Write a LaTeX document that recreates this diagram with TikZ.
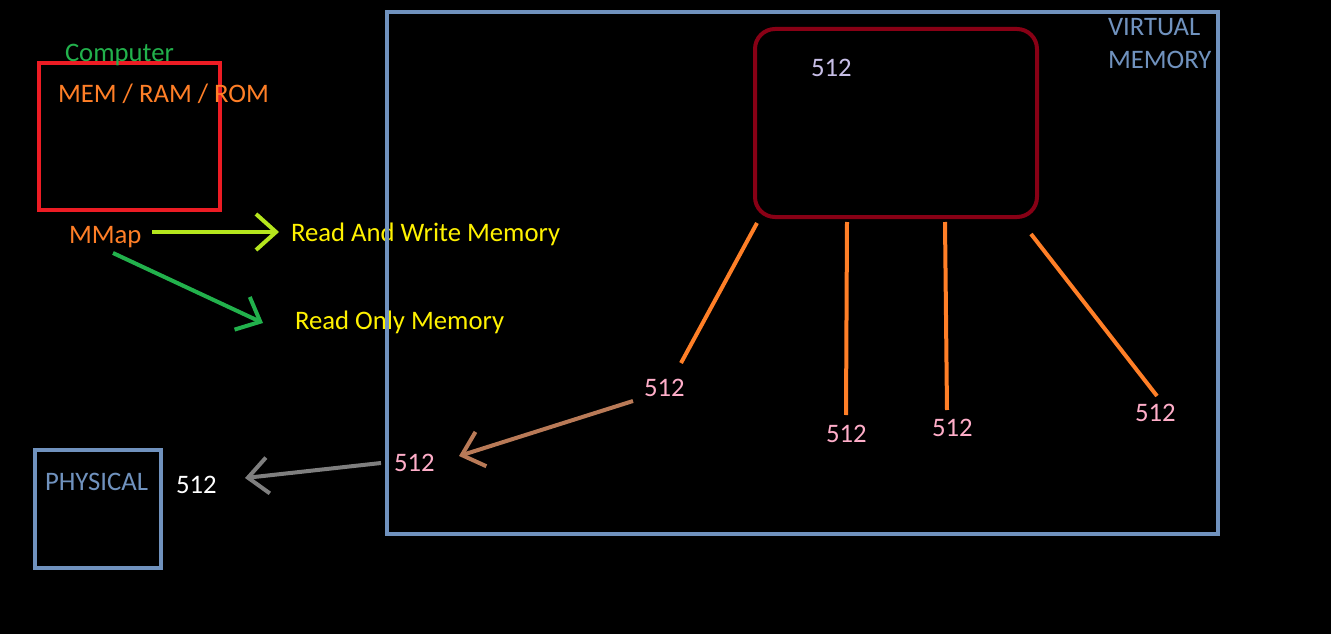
\documentclass[tikz,border=0pt]{standalone}
\usepackage{fontspec}
\setmainfont{Carlito}
\usetikzlibrary{arrows.meta}
\definecolor{cred}{HTML}{ED1C24}
\definecolor{cgreen}{HTML}{22B14C}
\definecolor{corange}{HTML}{FF7F27}
\definecolor{clime}{HTML}{B5E61D}
\definecolor{cyellow}{HTML}{FFF200}
\definecolor{cblue}{HTML}{7092BE}
\definecolor{cmaroon}{HTML}{880015}
\definecolor{clav}{HTML}{C8BFE7}
\definecolor{cpink}{HTML}{FFAEC9}
\definecolor{cbrown}{HTML}{B97A57}
\definecolor{cgray}{HTML}{7F7F7F}
\begin{document}
\begin{tikzpicture}[x=1pt,y=-1pt,line width=4pt,
	lbl/.style={anchor=west,inner sep=0pt,font=\fontsize{26.7}{33}\selectfont},
	barb/.style={-{Straight Barb[length=20pt,width=36pt]}}]
		\fill[black] (0,0) rectangle (1331,634);
		% left side: computer memory
		\draw[cred] (39,63) rectangle (220,210);
		\node[lbl,cgreen] (comp) at (63,55) {Computer};
		\node[lbl,corange] (mem) at (56,94) {MEM / RAM / ROM};
		\node[lbl,corange] (mmap) at (67,237) {MMap};
		\node[lbl,cyellow] (rw) at (289,234) {Read And Write Memory};
		\node[lbl,cyellow] (ro) at (293,322) {Read Only Memory};
		\coordinate (y0) at (152,232);
		\coordinate (y1) at (279,232);
		\coordinate (g0) at (113,253);
		\coordinate (g1) at (263,323);
		\draw[barb,clime] (y0) -- (y1);
		\draw[barb,cgreen] (g0) -- (g1);
		% virtual memory
		\draw[cblue] (387,12) rectangle (1218,534);
		\node[lbl,cblue,align=left] (vmem) at (1106,44) {VIRTUAL\\MEMORY};
		\draw[cmaroon,rounded corners=20pt] (755,29) rectangle (1037,217);
		\node[lbl,clav] (top) at (809,68) {512};
		\node[lbl,cpink] (pa) at (642,388) {512};
		\node[lbl,cpink] (pb) at (824,434) {512};
		\node[lbl,cpink] (pc) at (930,428) {512};
		\node[lbl,cpink] (pd) at (1133,413) {512};
		\node[lbl,cpink] (pe) at (392,463) {512};
		\coordinate (la) at (757,223); \coordinate (la') at (681,363);
		\coordinate (lb) at (847,222); \coordinate (lb') at (846,415);
		\coordinate (lc) at (945,222); \coordinate (lc') at (947,410);
		\coordinate (ld) at (1031,234); \coordinate (ld') at (1157,396);
		\foreach \a in {la,lb,lc,ld}\draw[corange] (\a) -- (\a');
		\coordinate (b0) at (633,401);
		\coordinate (b1) at (459,456);
		\draw[barb,cbrown] (b0) -- (b1);
		% physical
		\draw[cblue] (35,450) rectangle (161,568);
		\node[lbl,cblue] (phys) at (43,482) {PHYSICAL};
		\node[lbl,white] (pw) at (174,485) {512};
		\coordinate (k0) at (381,463);
		\coordinate (k1) at (245,478);
		\draw[barb,cgray] (k0) -- (k1);
		\end{tikzpicture}
\end{document}
